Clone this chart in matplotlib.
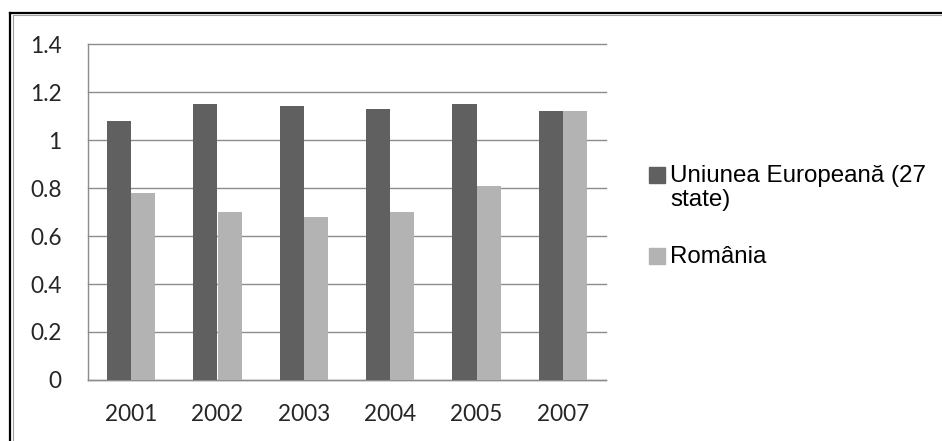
import numpy as np
import matplotlib.pyplot as plt
from matplotlib.lines import Line2D
from matplotlib.patches import Rectangle
from matplotlib.ticker import FuncFormatter

years = ['2001', '2002', '2003', '2004', '2005', '2007']
ue = [1.08, 1.15, 1.14, 1.13, 1.15, 1.12]
romania = [0.78, 0.70, 0.68, 0.70, 0.81, 1.12]
labels = ['Uniunea Europeană (27\nstate)', 'România']
colors = ['#606060', '#b3b3b3']

W, H = 942, 441
fig = plt.figure(figsize=(W / 100, H / 100), dpi=100)
ax = fig.add_axes([88 / W, 1 - 380 / H, 518 / W, 336 / H])

x = np.arange(len(years))
bw = 0.278
ax.bar(x - bw / 2, ue, bw, color=colors[0], zorder=3)
ax.bar(x + bw / 2, romania, bw, color=colors[1], zorder=3)

ax.set_xlim(-0.5, len(years) - 0.5)
ax.set_ylim(0, 1.4)
ax.set_yticks(np.arange(0, 1.41, 0.2))
ax.yaxis.set_major_formatter(FuncFormatter(lambda v, p: '%g' % round(v, 1)))
ax.set_xticks(x)
ax.set_xticklabels(years)
ax.grid(axis='y', color='#8c8c8c', linewidth=1, zorder=0)
for g in ax.get_ygridlines():
    g.set_clip_on(False)
for s in ['top', 'right']:
    ax.spines[s].set_visible(False)
for s in ['left', 'bottom']:
    ax.spines[s].set_color('#8c8c8c')
    ax.spines[s].set_linewidth(1)
ax.tick_params(length=0, labelsize=16.3, labelcolor='#262626')
ax.tick_params(axis='y', pad=19)
ax.tick_params(axis='x', pad=17)
for t in ax.get_xticklabels() + ax.get_yticklabels():
    t.set_family('Lato')

# legend drawn by hand so the square sits next to the first line
ys = [175, 256]
for lab, c, yc in zip(labels, colors, ys):
    fig.add_artist(Rectangle((649 / W, 1 - (yc + 8) / H), 16 / W, 16 / H,
                             transform=fig.transFigure, color=c))
    fig.text(670 / W, 1 - (yc - 10) / H, lab, ha='left', va='top',
             fontsize=17.4, family='Liberation Sans', color='black',
             linespacing=1.1)

# chart frame (top and left edges visible)
fig.add_artist(Line2D([10 / W, 10 / W], [0, 1 - 13 / H], color='black', lw=1.6,
                      transform=fig.transFigure))
fig.add_artist(Line2D([10 / W, 1], [1 - 13 / H, 1 - 13 / H], color='black', lw=1.6,
                      transform=fig.transFigure))
fig.add_artist(Line2D([12.5 / W, 12.5 / W], [0, 1 - 15 / H], color='#a0a0a0', lw=0.8,
                      transform=fig.transFigure))
fig.add_artist(Line2D([12.5 / W, 1], [1 - 15 / H, 1 - 15 / H], color='#a0a0a0', lw=0.8,
                      transform=fig.transFigure))

fig.savefig('out.png', dpi=100)
